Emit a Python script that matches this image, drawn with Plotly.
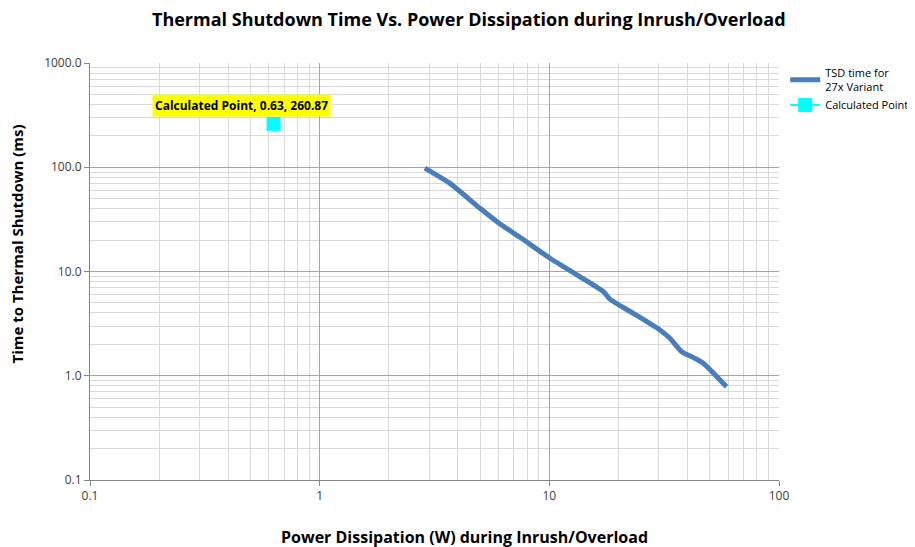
import math
import plotly.graph_objects as go

power_w = [2.87, 3.69, 4.99, 6.1, 7.45, 10.07, 13.6, 17.2, 18.4, 23.2, 30.3, 33.5, 37.7, 42.3, 46.8, 59.1]
tsd_ms = [98, 70, 40.4, 28.6, 21.3, 13.4, 8.9, 6.4, 5.4, 3.97, 2.75, 2.29, 1.70, 1.50, 1.32, 0.785]
calc_x = [0.63]
calc_y = [260.87]
x_ticks = [0.1, 1, 10, 100]
x_labels = ["0.1", "1", "10", "100"]
y_ticks = [0.1, 1, 10, 100, 1000]
y_labels = ["0.1", "1.0", "10.0", "100.0", "1000.0"]

font = "Open Sans, Liberation Sans, sans-serif"

fig = go.Figure()
fig.add_trace(go.Scatter(x=power_w, y=tsd_ms, mode="lines", name="TSD time for<br>27x Variant",
                         line=dict(color="#4a7ebb", width=5, shape="spline", smoothing=0.6)))
fig.add_trace(go.Scatter(x=calc_x, y=calc_y, mode="lines+markers", name="Calculated Point",
                         line=dict(color="#00ffff", width=2),
                         marker=dict(symbol="square", size=14, color="#00ffff")))

fig.add_annotation(x=math.log10(calc_x[0]), y=math.log10(calc_y[0]), xref="x", yref="y",
                   text="<b>Calculated Point, 0.63, 260.87</b>", showarrow=False,
                   xshift=-32, yshift=18, bgcolor="#ffff00",
                   font=dict(family=font, size=12, color="black"), borderpad=2)

# Axis titles (placed as annotations to match reference offsets)
fig.add_annotation(x=0.5435, y=-0.137, xref="paper", yref="paper", showarrow=False,
                   text="<b>Power Dissipation (W) during Inrush/Overload</b>",
                   xanchor="center", yanchor="middle",
                   font=dict(family=font, size=16, color="black"))
fig.add_annotation(x=-0.106, y=0.567, xref="paper", yref="paper", showarrow=False,
                   text="<b>Time to Thermal Shutdown (ms)</b>", textangle=-90,
                   xanchor="center", yanchor="middle",
                   font=dict(family=font, size=15, color="black"))

axis_common = dict(type="log", showline=True, linecolor="#868686", linewidth=1,
                   gridcolor="#a6a6a6", gridwidth=1, ticks="outside", ticklen=5,
                   tickcolor="#868686", zeroline=False, mirror=False, automargin=False,
                   tickfont=dict(family=font, size=12, color="#404040"),
                   minor=dict(showgrid=True, gridcolor="#d9d9d9", gridwidth=1, ticks="", dtick="D1"))

fig.update_xaxes(**axis_common, range=[-1, 2], tickvals=x_ticks, ticktext=x_labels)
fig.update_yaxes(**axis_common, range=[-1, 3], tickvals=y_ticks, ticktext=y_labels)

fig.update_layout(
    width=907, height=539,
    margin=dict(l=82, r=136, t=55, b=67, autoexpand=False),
    paper_bgcolor="white", plot_bgcolor="white",
    title=dict(text="<b>Thermal Shutdown Time Vs. Power Dissipation during Inrush/Overload</b>",
               x=0.508, xanchor="center", y=0.978, yanchor="middle", automargin=False,
               font=dict(family=font, size=18, color="black")),
    legend=dict(x=1.009, y=1.01, xanchor="left", yanchor="top",
                font=dict(family=font, size=11, color="black"), tracegroupgap=6, itemwidth=30),
    showlegend=True,
)

fig.write_html("out.html")
